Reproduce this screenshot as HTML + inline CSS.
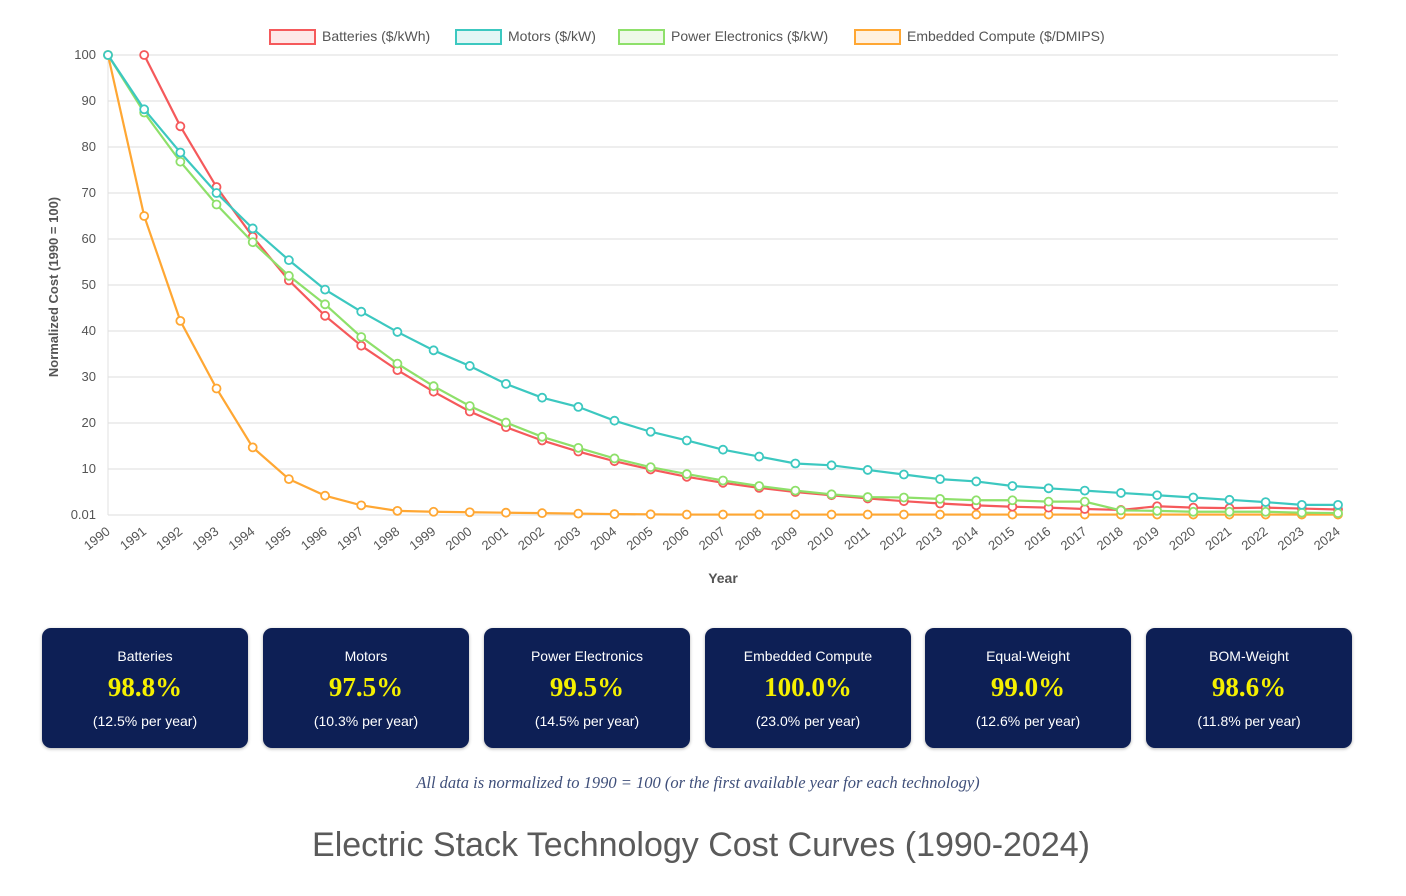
<!DOCTYPE html>
<html><head><meta charset="utf-8">
<style>
body{margin:0;width:1406px;height:896px;background:#fff;font-family:"Liberation Sans",sans-serif;position:relative;overflow:hidden}
svg{position:absolute;left:0;top:0}
.card{position:absolute;top:628px;width:206px;height:120px;background:#0d1f55;border-radius:9px;color:#fff;text-align:center;box-shadow:0 1px 3px rgba(0,0,0,.3)}
.card .l{margin-top:20px;font-size:14px}
.card .v{margin-top:8px;font-family:"Liberation Serif",serif;font-weight:bold;font-size:27px;color:#f5f000}
.card .s{margin-top:10px;font-size:14px}
#foot{position:absolute;top:773px;left:0;width:1396px;text-align:center;font-family:"Liberation Serif",serif;font-style:italic;font-size:16.5px;color:#3f4f7a}
#title{position:absolute;top:826px;left:0;width:1402px;text-align:center;font-size:34px;color:#5a5a5a}
</style></head><body>
<svg id="chart" width="1406" height="600"></svg>
<div class="card" style="left:42px"><div class="l">Batteries</div><div class="v">98.8%</div><div class="s">(12.5% per year)</div></div>
<div class="card" style="left:263px"><div class="l">Motors</div><div class="v">97.5%</div><div class="s">(10.3% per year)</div></div>
<div class="card" style="left:484px"><div class="l">Power Electronics</div><div class="v">99.5%</div><div class="s">(14.5% per year)</div></div>
<div class="card" style="left:705px"><div class="l">Embedded Compute</div><div class="v">100.0%</div><div class="s">(23.0% per year)</div></div>
<div class="card" style="left:925px"><div class="l">Equal-Weight</div><div class="v">99.0%</div><div class="s">(12.6% per year)</div></div>
<div class="card" style="left:1146px"><div class="l">BOM-Weight</div><div class="v">98.6%</div><div class="s">(11.8% per year)</div></div>
<div id="foot">All data is normalized to 1990 = 100 (or the first available year for each technology)</div>
<div id="title">Electric Stack Technology Cost Curves (1990-2024)</div>
<script>
const years=[1990,1991,1992,1993,1994,1995,1996,1997,1998,1999,2000,2001,2002,2003,2004,2005,2006,2007,2008,2009,2010,2011,2012,2013,2014,2015,2016,2017,2018,2019,2020,2021,2022,2023,2024];
const batteries=[null,100,84.5,71.3,60.5,51,43.3,36.8,31.5,26.8,22.5,19.1,16.2,13.8,11.7,9.9,8.3,7.0,5.9,5.0,4.3,3.6,3.0,2.5,2.1,1.8,1.6,1.3,1.1,1.9,1.6,1.5,1.6,1.4,1.2];
const motors=[100,88.2,78.8,70,62.3,55.4,49,44.2,39.8,35.8,32.4,28.5,25.5,23.5,20.5,18.1,16.2,14.2,12.7,11.2,10.8,9.8,8.8,7.8,7.3,6.3,5.8,5.3,4.8,4.3,3.8,3.3,2.8,2.2,2.2];
const power=[100,87.5,76.8,67.5,59.3,52,45.8,38.7,32.9,28,23.7,20.1,17,14.6,12.3,10.4,8.9,7.5,6.3,5.3,4.5,3.9,3.8,3.5,3.2,3.2,2.9,2.9,1.0,0.9,0.7,0.7,0.7,0.5,0.4];
const compute=[100,65,42.2,27.5,14.7,7.8,4.2,2.1,0.9,0.7,0.6,0.5,0.4,0.3,0.2,0.15,0.1,0.1,0.1,0.1,0.1,0.1,0.1,0.1,0.1,0.1,0.1,0.1,0.1,0.1,0.1,0.1,0.1,0.1,0.1];
const yTicks=[0,10,20,30,40,50,60,70,80,90,100];
const yTickLabels=["0.01","10","20","30","40","50","60","70","80","90","100"];
const NS="http://www.w3.org/2000/svg";
const svg=document.getElementById('chart');
const x0=108,x1=1338,yb=515,yt=55;
function xs(i){return x0+(x1-x0)*i/(years.length-1);}
function ys(v){return yb-(yb-yt)*v/100;}
function mk(t,a,p){const e=document.createElementNS(NS,t);for(const k in a)e.setAttribute(k,a[k]);(p||svg).appendChild(e);return e;}
yTicks.forEach((t,i)=>{
 const g=mk('line',{x1:x0,x2:x1,y1:ys(t),y2:ys(t),stroke:'#e8e8e8','stroke-width':1.5});
 
 
 const tx=mk('text',{x:96,y:ys(t)+4,'text-anchor':'end','font-size':13,fill:'#555'});tx.textContent=yTickLabels[i];
 
 
});
mk('line',{x1:x0,x2:x0,y1:yt,y2:yb,stroke:'#e0e0e0'});
years.forEach((y,i)=>{
 const tx=mk('text',{x:xs(i)+3,y:533,'text-anchor':'end','font-size':13,fill:'#555',transform:`rotate(-38 ${xs(i)+3} 533)`});tx.textContent=y;
 
 
});
const xt=mk('text',{x:723,y:583,'text-anchor':'middle','font-size':14,'font-weight':'bold',fill:'#555'});xt.textContent='Year';


const yl=mk('text',{x:58,y:287,'text-anchor':'middle','font-size':13,'font-weight':'bold',fill:'#555',transform:'rotate(-90 58 287)'});yl.textContent='Normalized Cost (1990 = 100)';


const series=[[compute,'#ffa733','compute'],[batteries,'#f5595b','batteries'],[power,'#8ee06a','power-electronics'],[motors,'#3cc8c0','motors']];
series.forEach(([d,c,n])=>{
 let p='';d.forEach((v,i)=>{if(v==null)return;p+=(p?'L':'M')+xs(i)+' '+ys(v);});
 const l=mk('path',{d:p,fill:'none',stroke:c,'stroke-width':2.2});
 
 
 d.forEach((v,i)=>{if(v==null)return;
  const pt=mk('circle',{cx:xs(i),cy:ys(v),r:4,fill:'#fff',stroke:c,'stroke-width':1.8});
  
  
 });
});
const legend=[[270,'#f5595b','#fde8e8','Batteries ($/kWh)'],[456,'#3cc8c0','#e3f6f5','Motors ($/kW)'],[619,'#8ee06a','#eef9e8','Power Electronics ($/kW)'],[855,'#ffa733','#fff1e0','Embedded Compute ($/DMIPS)']];
legend.forEach(([x,c,f,t])=>{
 const r=mk('rect',{x:x,y:30,width:45,height:14,fill:f,stroke:c,'stroke-width':2});
 
 
 const tx=mk('text',{x:x+52,y:41,'font-size':14,fill:'#555'});tx.textContent=t;
 
 
});
</script>
</body></html>
